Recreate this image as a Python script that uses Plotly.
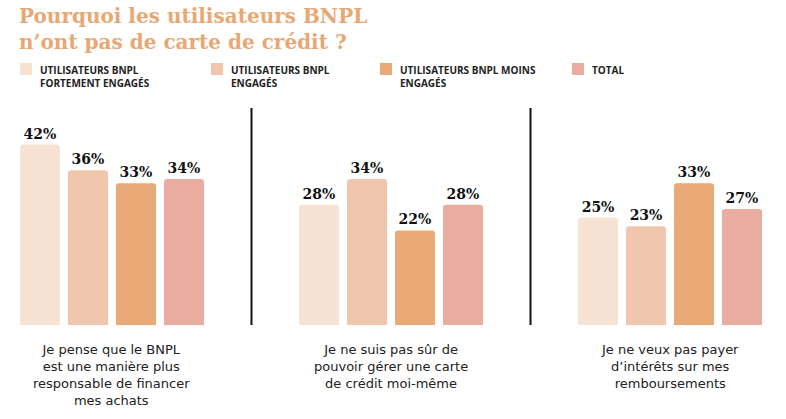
import plotly.graph_objects as go

categories = [
    "Je pense que le BNPL<br>est une manière plus<br>responsable de financer<br>mes achats",
    "Je ne suis pas sûr de<br>pouvoir gérer une carte<br>de crédit moi-même",
    "Je ne veux pas payer<br>d’intérêts sur mes<br>remboursements",
]
series_names = [
    "UTILISATEURS BNPL<br>FORTEMENT ENGAGÉS",
    "UTILISATEURS BNPL<br>ENGAGÉS",
    "UTILISATEURS BNPL MOINS<br>ENGAGÉS",
    "TOTAL",
]
title_text = "Pourquoi les utilisateurs BNPL<br>n’ont pas de carte de crédit ?"
fortement = [42, 28, 25]
engages = [36, 34, 23]
moins = [33, 22, 33]
total = [34, 28, 27]
series_values = [fortement, engages, moins, total]
colors = ["#F6E3D4", "#F0C7AD", "#E9AA78", "#EAABA0"]

xpos = list(range(len(categories)))

W, H = 786, 419
ml, mr, mt, mb = 16, 20, 108, 94
pw, ph = W - ml - mr, H - mt - mb


def px_x(p):
    return (p - ml) / pw


def px_y(p):
    return (H - mb - p) / ph


fig = go.Figure()
for name, vals, col in zip(series_names, series_values, colors):
    fig.add_trace(go.Bar(
        x=xpos, y=vals, name=name, marker=dict(color=col, line=dict(width=0), cornerradius=3),
        text=[f"<b>{v}%</b>" for v in vals], textposition="outside",
        textfont=dict(family="DejaVu Serif", size=14, color="#111111"),
        cliponaxis=False, showlegend=False, hoverinfo="skip",
    ))

shapes = []
for xv in [0.5, 1.5]:
    shapes.append(dict(type="line", xref="x", yref="paper", x0=xv, x1=xv, y0=0, y1=1,
                       line=dict(color="#111111", width=2)))

annotations = []
# category labels
for i, c in enumerate(categories):
    annotations.append(dict(x=i, xref="x", y=px_y(340), yref="paper", text=c,
                            showarrow=False, xanchor="center", yanchor="top", align="center",
                            font=dict(family="DejaVu Sans", size=13, color="#222222")))

# title
annotations.append(dict(x=px_x(17), xref="paper", y=px_y(2), yref="paper",
                        text=f"<b>{title_text}</b>", showarrow=False, xanchor="left", yanchor="top",
                        align="left",
                        font=dict(family="DejaVu Serif", size=20, color="#E8A874")))

# legend via shapes + annotations
leg_x = [20, 211, 380, 572]
for lx, name, col in zip(leg_x, series_names, colors):
    shapes.append(dict(type="rect", xref="paper", yref="paper",
                       x0=px_x(lx), x1=px_x(lx + 12), y0=px_y(75), y1=px_y(63),
                       fillcolor=col, line=dict(width=0)))
    annotations.append(dict(x=px_x(lx + 18), xref="paper", y=px_y(61), yref="paper",
                            text=f"<b>{name}</b>", showarrow=False, xanchor="left", yanchor="top",
                            align="left", font=dict(family="Open Sans", size=10, color="#222222")))

fig.update_layout(
    width=W, height=H,
    margin=dict(l=ml, r=mr, t=mt, b=mb),
    paper_bgcolor="white", plot_bgcolor="white",
    barmode="group", bargap=0.312, bargroupgap=0.167,
    xaxis=dict(range=[-0.344, 2.344], showticklabels=False, showgrid=False, zeroline=False,
               showline=False, ticks=""),
    yaxis=dict(range=[0, 50.5], visible=False, showgrid=False, zeroline=False),
    shapes=shapes, annotations=annotations,
    showlegend=False, hovermode=False,
)

fig.write_html("out.html", config={"displayModeBar": False},
               post_script="document.body.style.margin='0px';document.body.style.overflow='hidden';")
